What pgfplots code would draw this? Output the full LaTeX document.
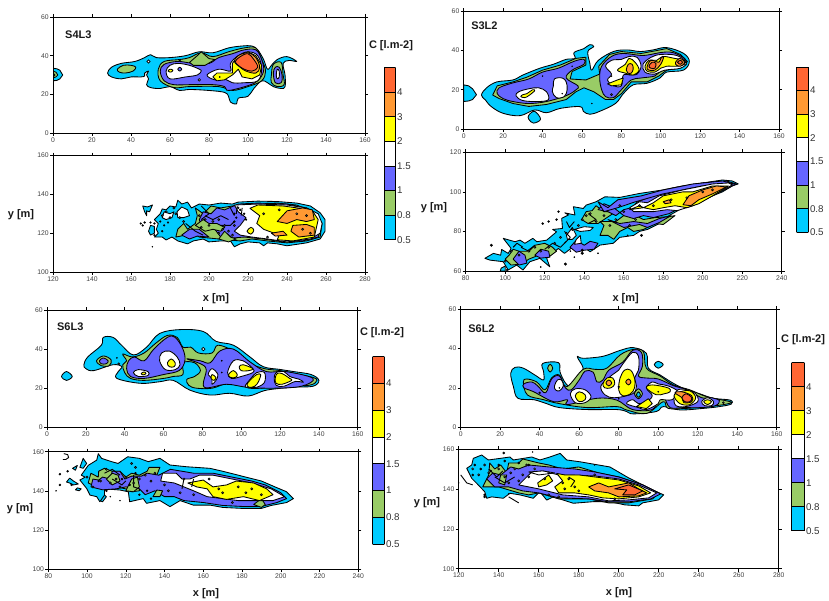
\documentclass[border=0pt]{standalone}
\usepackage{fontspec}
\setmainfont{Liberation Sans}
\usepackage{pgfplots}
\pgfplotsset{compat=1.18}
\definecolor{C0}{HTML}{00CCFF}
\definecolor{C1}{HTML}{99CC66}
\definecolor{C2}{HTML}{6666FF}
\definecolor{C3}{HTML}{FFFFFF}
\definecolor{C4}{HTML}{FFFF00}
\definecolor{C5}{HTML}{FF9933}
\definecolor{C6}{HTML}{FF6633}
\tikzset{ct/.style={draw=black,line width=0.85pt,line join=round},
 s/.style={/tikz/smooth cycle,/tikz/tension=0.6}}
\newcommand\ply[3]{\addplot[fill=C#2,ct,#1] coordinates {#3} --cycle;}
\newcommand\hol[2][1pt]{\addplot[only marks,mark=*,mark size=#1,mark options={fill=white,draw=black,line width=0.7pt}] coordinates {#2};}
\newcommand\blk[2][0.9pt]{\addplot[only marks,mark=*,mark size=#1,mark options={fill=black,draw=black}] coordinates {#2};}
\newcommand\sq[1]{\addplot[black,line width=0.9pt,line join=round] coordinates {#1};}
\pgfplotsset{pan/.style={scale only axis,axis on top,
  axis line style={black,line width=0.7pt},
  tick align=outside,major tick length=3pt,tick style={black,line width=0.6pt},
  xtick distance=20,ytick distance=20,
  /pgf/number format/assume math mode=true,
  tick label style={font=\fontsize{6.8}{8}\selectfont,text=black!75,inner sep=1.2pt},
  }}
\newcommand\cbar[4]{%
\begin{axis}[scale only axis,at={(#1pt,#2pt)},width=#3pt,height=#4pt,xmin=0,xmax=1,ymin=0,ymax=7,
  axis on top,axis line style={black,line width=0.7pt},hide x axis,
  ytick={0,1,2,3,4,5,6},yticklabels={0.5,0.8,1,1.5,2,3,4},yticklabel pos=right,
  major tick length=0pt,tick label style={font=\fontsize{9.8}{11}\selectfont,text=black!80,inner sep=1.5pt}]
\addplot[fill=C0,draw=black,line width=.7pt] coordinates {(0,0) (1,0) (1,1) (0,1)} --cycle;
\addplot[fill=C1,draw=black,line width=.7pt] coordinates {(0,1) (1,1) (1,2) (0,2)} --cycle;
\addplot[fill=C2,draw=black,line width=.7pt] coordinates {(0,2) (1,2) (1,3) (0,3)} --cycle;
\addplot[fill=C3,draw=black,line width=.7pt] coordinates {(0,3) (1,3) (1,4) (0,4)} --cycle;
\addplot[fill=C4,draw=black,line width=.7pt] coordinates {(0,4) (1,4) (1,5) (0,5)} --cycle;
\addplot[fill=C5,draw=black,line width=.7pt] coordinates {(0,5) (1,5) (1,6) (0,6)} --cycle;
\addplot[fill=C6,draw=black,line width=.7pt] coordinates {(0,6) (1,6) (1,7) (0,7)} --cycle;
\end{axis}}
\newcommand\lab[3]{\node[font=\fontsize{11}{12}\bfseries\selectfont,text=black!90,inner sep=0pt] at (#1pt,#2pt) {#3};}
\begin{document}
\begin{tikzpicture}[x=1pt,y=1pt]
\path[use as bounding box] (0,0) rectangle (829,600);

%% ===== S4L3 top
\begin{axis}[pan,at={(53pt,467pt)},width=312pt,height=116pt,xmin=0,xmax=160,ymin=0,ymax=60]
\ply{}{0}{(0,33.5) (2,33.2) (3.5,32.5) (5,30) (3.5,28) (2,27.2) (0,27)}
\ply{}{1}{(0,32) (1.5,31.5) (2.5,30) (1.5,29) (0,28.5)}
\ply{}{2}{(0,31) (1,30) (0,29)}
\ply{s}{0}{(28,31) (30,34) (35,36) (42,37) (47,39) (50,40.5) (53,39) (60,39) (68,40) (75,42) (82,41.5) (90,44) (97,45) (102,45) (105,43) (108,38) (110,33) (112,35) (115,38) (120,39.5) (125,37) (121,37.5) (118,36) (119,30) (119,24) (117,23) (113,24) (110,26) (107,27) (103,23) (100,19) (95,18) (94,15) (91,16) (90,19) (88,21) (80,22) (70,22.5) (65,22) (60,24) (55,23) (50,23.5) (48,25) (49,28) (48,30) (49,32) (47,31) (47,29.5) (45,29) (40,29) (35,28) (30,29)}
\ply{s}{1}{(33,33) (36,35) (40,35) (42.5,34) (41,32) (37,31) (34,31.5)}
\ply{s}{1}{(54,33) (57,37) (65,38) (70,39) (76,41.5) (82,39.5) (90,42) (98,44) (104,44) (107,38) (109,32) (107,27) (100,24) (92,22) (85,24) (70,24) (62,23.5) (55,27)}
\ply{s}{2}{(55,32) (57,35.5) (64,37) (72,36) (80,36) (85,39) (92,41) (98,43) (104,43) (107,38) (108,32) (105,27) (100,24.5) (90,22) (88,24) (82,25) (70,25) (62,25) (57,27)}
\ply{}{1}{(70,36.5) (74,40) (76,42) (80,38.5) (83,38) (78,35) (72,35)}
\ply{s}{3}{(60,28) (58,32) (60,35) (64,36) (70,35) (75,33) (76,32) (74,30) (68,29)}
\ply{s}{4}{(59,32) (60,33) (61.5,32.5) (60.5,31.5)}
\ply{s}{2}{(64,33) (65,34) (66,33) (65,32)}
\ply{s}{3}{(79,30) (85,33) (91,32) (91,36) (95,40) (100,42) (105,40) (107,33) (105,27) (98,26) (92,26) (88,28) (83,27.5)}
\ply{}{4}{(82,29) (84,31) (88,31) (92,31) (92,36) (95,40) (100,42) (104,40) (107,35) (106,30) (102,28) (97,29) (95,33) (92,30) (88,27.5) (84,27)}
\ply{s}{5}{(93,37) (95,40) (100,41.5) (104,39) (106,34) (104,31) (99,32) (96,34)}
\ply{s}{6}{(93.5,37) (96,39.5) (100,41) (103,38) (105,34) (102,32) (98,33) (95,35)}
\ply{s}{1}{(112,30) (113,35.5) (117,36.5) (118,30) (118.5,25) (115,24) (112,26)}
\ply{s}{2}{(113,31) (114,34) (116,34) (117.5,30) (117,26) (114,26)}
\ply{s}{3}{(114.5,30) (115,33) (116,32) (116,29) (115,28)}
\hol[1.6pt]{(49,37)}
\hol[1.2pt]{(75,27.5)}
\hol[0.7pt]{(65,37.5)}
\blk[0.6pt]{(85.5,29)}
\node[font=\fontsize{11}{12}\bfseries\selectfont,text=black!90] at (axis cs:13,50.8) {S4L3};
\end{axis}

%% ===== S4L3 bottom
\begin{axis}[pan,at={(53pt,328pt)},width=312pt,height=116.5pt,xmin=120,xmax=280,ymin=100,ymax=160]
\ply{}{0}{(166,134) (168.5,133.5) (171,134.5) (169.5,131) (168,131.5) (168,129) (167,131)}
\ply{}{0}{(169,121) (170,124) (172,123.5) (172,120) (170,119)}
\ply{}{0}{(173,122) (174,125) (172,127) (175,130) (176,132.5) (178,132) (180,134) (183,133.5) (184,137) (186,135) (189,136) (191,133) (195,135) (200,134.5) (206,135.5) (212,135) (215,136) (225,136.5) (235,136.3) (245,135.5) (252,134) (257,130.5) (259.5,127) (259.5,121) (257,117) (250,115) (240,113.5) (235,114.5) (230,115) (228,113.5) (226,115) (220,115.5) (216,114.5) (213,113) (211,116) (206,116) (200,115.5) (197,117) (192,116) (189,114.5) (184,116) (181,118) (178,116.5) (176,118) (172,118) (174,120)}
\ply{}{1}{(183,118) (184,122) (187,125) (189,122) (193,125) (194,129) (193,133) (197,130) (201,134) (206,133) (212,134) (220,135) (235,135.5) (245,134.5) (255,130) (258,125) (257,118) (250,116) (240,115) (230,116) (222,117) (216,116) (205,117) (195,118) (192,120) (188,119)}
\ply{}{2}{(195,127) (197,131) (201,130) (204,133) (208,132) (215,135) (225,135.5) (240,135) (250,133) (256,129) (257.5,123) (256,118) (248,116) (238,115.5) (228,117) (218,118) (212,117.5) (209,120) (206,118) (203,122) (198,122) (196,124)}
\ply{}{2}{(186,119) (190,122) (195,122) (200,118) (194,118.5) (190,117)}
\ply{}{1}{(193,124) (197,127) (200,125) (204,125) (208,123) (206,121) (202,122) (198,121)}
\ply{}{1}{(205,117) (208,121) (211,118) (214,117) (210,115.5)}
\ply{}{3}{(213,134.5) (215,131) (219,128) (216,124) (213,121) (216,119) (222,118) (230,117) (240,115.5) (252,117) (257,120) (258,125) (256,130) (250,133) (240,134.5) (225,135)}
\ply{}{4}{(221,132.8) (225,134.5) (238,134) (252.7,132) (256,127) (254,118) (243,116) (235,116.6) (236,119) (228,122) (224.5,125) (226,129)}
\ply{s}{4}{(219.5,121) (221.5,123) (223,121.5) (221.5,119.5)}
\ply{}{5}{(235,126) (240,131.5) (248,133) (253,132) (254,127) (250,126) (245,127) (240,125)}
\ply{}{5}{(243,124) (250,124.5) (254,123) (254,119) (246,118) (242,121)}
\ply{}{5}{(232,120) (238,121) (240,119) (234,118.5)}
\ply{}{3}{(183.6,131) (186,133.5) (189,132) (190,129) (187,128) (184,128)}
\ply{}{3}{(176,128) (177,131) (180,130) (182,131) (181,128) (178,127)}
\blk{(165,125) (167,125.5) (170,125.5) (172,125) (166,124) (176,121) (172,119) (213,130) (214,128) (216,132) (218,130) (219,127) (213,126) (215,133) (175,126) (177,124) (179,125.5)}
\blk[0.5pt]{(171,113)}
\sq{(211,133) (213,129)}
\sq{(214.5,134) (214,130)}
\sq{(217,133) (216.5,129)}
\sq{(198,129) (202,127) (206,129) (210,127)}
\sq{(188,125) (193,121) (197,119)}
\sq{(196,134) (200,130) (196,127)}
\sq{(206,124) (211,124) (213,126)}
\hol{(176,129) (178,131) (180,128) (183,130) (185,128) (187,126) (182,133) (195,129) (198,127) (202,126) (205,127) (208,124) (210,121) (207,122) (200,124) (196,123) (212,119) (205,120) (228,130) (236,132) (245,130) (250,129) (248,122) (252,120) (230,118) (213,124)}
\end{axis}

%% ===== S3L2 top
\begin{axis}[pan,at={(463.7pt,471pt)},width=315.3pt,height=117.7pt,xmin=0,xmax=160,ymin=0,ymax=60]
\ply{}{0}{(0,22.5) (2.5,22) (4.5,20.5) (6.5,17.5) (4.5,15) (2.5,14.3) (0,14)}
\ply{s}{0}{(35.4,3) (33,5) (33,7) (36,9) (39,5)}
\ply{s}{0}{(9,17.3) (11.6,21) (16.8,24) (25,25) (30,27.5) (38.7,31) (45.5,33) (52,35.5) (56.5,36) (56,39) (61,41) (64,43) (66,42) (63,39.5) (64,33.5) (65,30) (68.3,35) (76,39.5) (83,40.3) (89.5,39.5) (96,40.3) (103,41.5) (111.5,38.6) (114.5,34.4) (111.5,30) (103,29) (99.6,26) (93,23.3) (86,22.5) (81,18) (77,13) (69,9) (64,7.5) (60.7,9) (59,11.4) (49,10.5) (42,8.3) (36,9.7) (28.6,6.8) (20,8) (14,11.4) (11,14.8)}
\ply{}{1}{(14.7,17.3) (17,22) (25,24) (32,26.4) (40,30) (49,32.6) (57,36) (62,36.6) (62,32.6) (55,29.3) (54,25.5) (62,25) (69,28) (68.5,32) (74,38) (80,39.5) (90,38.5) (97,39.8) (103,41) (110,38) (113.5,34.4) (110,31) (103,30) (99,27) (93,24) (85,24) (80,18) (76,15) (72,15) (66,19) (61,21) (57,19) (52,15) (42,12.5) (33,11.5) (25,13) (18,15.5)}
\ply{s}{2}{(17,18) (18,21) (25,23.5) (33,25.5) (40,29) (48,31) (56,34.5) (61,35.5) (61,33) (55,30) (52,26) (58,22) (57,20) (52,17) (42,14) (33,13) (25,14) (20,15.5)}
\ply{s}{2}{(69,26) (70,32) (75,37) (81,38.5) (90,37.5) (95,38) (100,39) (106,39) (112,36) (113,33) (108,31) (100,29.5) (97,27) (90,26) (85,25) (80,20) (76,16) (72,16.5) (70,20)}
\ply{s}{3}{(26.5,17) (28,19) (33,20.5) (38,21) (42,19) (43,15) (38,14) (30,14.5)}
\ply{s}{3}{(45.5,22) (46,25.5) (50,26) (52,24) (52.5,20) (51,16.5) (47,16) (45,19)}
\ply{s}{3}{(72,32) (75,35) (80,35.5) (84,37) (88,36.5) (90,32) (88,28) (85,27.5) (81,27.5) (80,22) (76,22) (73,25) (75,28)}
\ply{s}{3}{(91,33) (95,36.5) (100,38) (108,37.5) (113,34) (110,31) (102,30) (97,28) (92,29)}
\ply{s}{4}{(78,30) (82,33) (84,36) (87,34) (89,30) (86,27.5) (82,28.5)}
\ply{}{4}{(73,23) (78,25) (81,26) (80,22.5) (75,22)}
\ply{s}{4}{(29,16.5) (30,17.5) (32,18) (35,20) (36,19.5) (33,17) (31,16)}
\ply{s}{4}{(92,32) (94,35) (98,35) (101,37) (107,36) (112,35) (112,33) (108,32) (103,32) (100,31) (97,29) (93,29.5)}
\ply{s}{5}{(82.5,30) (83.5,33) (85.5,33) (86,30.5) (85,28.5) (83.3,28.5)}
\ply{s}{5}{(93,31.5) (95,35) (99,34) (100,36) (101.5,37) (100,33) (97,30) (94,30)}
\ply{s}{6}{(94,32) (95.5,34) (97.5,33.5) (97,31) (95,31)}
\ply{s}{5}{(107.5,34) (109.5,36) (111.5,35) (112,33.5) (110,32) (108,32.5)}
\ply{s}{6}{(108.5,34) (110,35) (111,34) (110,33)}
\blk[0.5pt]{(40,27) (55,32) (50,18) (65,13) (75,27)}
\hol[1pt]{(75,17.5)}
\node[font=\fontsize{11}{12}\bfseries\selectfont,text=black!90] at (axis cs:10.5,52.7) {S3L2};
\end{axis}

%% ===== S3L2 bottom
\begin{axis}[pan,at={(465.7pt,329pt)},width=316pt,height=118.7pt,xmin=80,xmax=240,ymin=60,ymax=120]
\ply{}{0}{(89.7,66.4) (94,68.9) (97.7,68) (98.2,70.9) (101.5,68.9) (103,71.4) (99,76.5) (105,74.8) (107.5,75.6) (110,74) (114,76.5) (116,74.8) (121,75.6) (126,79.8) (124,81) (129,81.5) (128.6,86.6) (132,88.3) (130.2,89.4) (135.3,88.3) (134.5,92.5) (139.5,91.6) (141,93.3) (146,95) (150.5,97.5) (158,97.2) (168,99.2) (180,101) (190,103) (200,104.5) (210,106) (215,105.5) (218,104) (215,103) (210,100) (200,96) (190,92) (183,88) (178,84) (172,81) (168,80) (165,78) (158,77) (154.7,74) (148,73.1) (143,69.7) (140,72) (134.5,72.3) (130,68.9) (126.9,71.4) (121,66.4) (122.6,62.1) (117.6,66.4) (112.5,64.7) (109,60.5) (105.8,63) (101.5,60.5) (99,64.7) (92.3,65.5)}
\ply{}{0}{(100,60) (100,62.5) (98,61.5) (97.5,60)}
\ply{}{1}{(100,66) (102,68) (104,71) (107,70) (111,70) (115,73) (120,74) (124,72) (126,70) (122,67) (117,68) (112,66) (108,63.5) (103,63)}
\ply{}{1}{(138.7,86) (141,90) (144,90.5) (146,93) (150,90) (156,90) (150,86) (147,84) (142,84)}
\ply{}{1}{(148,78) (150,83) (148,85) (152,85) (156,85) (160,88) (166,88) (170,86) (176,87) (183,87.5) (186,88) (180,83.5) (176,84) (170,81) (165,80) (162,82) (158,80) (155,76) (152,78)}
\ply{}{2}{(147,91) (152,90) (156,88) (160,91) (164,92) (167,95) (175,98) (185,102) (200,104.5) (212,105.5) (217,104) (210,100.5) (200,97) (190,92.5) (183,89) (175,87) (170,88) (165,86.5) (160,88) (155,92) (150,94)}
\ply{}{2}{(147,95) (152,92) (157,96) (163,97) (169,98) (180,101) (195,104) (210,105.5) (216,104) (200,103) (180,99) (166,95) (157,92) (150,90)}
\ply{}{2}{(152,86) (158,84) (165,85) (172,84) (178,86.5) (184,88) (178,84.5) (172,82) (168,83.5) (160,82)}
\ply{}{2}{(132.8,72) (136,75.6) (140,73) (143,75) (147,74) (145,71) (140,70.5) (136,69.5)}
\ply{}{2}{(104,66) (107,70) (110,68) (111,64) (107,63)}
\ply{}{2}{(115,68) (118,71) (122,70) (122.6,67) (118,66.5)}
\ply{}{3}{(163,92) (168,95) (172,94.5) (178,98) (190,101) (205,104) (213,104.5) (215,103.5) (205,98) (195,93) (187,90.5) (182,91) (175,90) (165,90)}
\ply{}{3}{(135,81) (140,82.4) (144.6,82) (143,80.5) (138,80)}
\ply{}{3}{(131,78) (134,82) (136,78) (134,76) (131.5,76)}
\ply{}{3}{(135,73.5) (136,76) (138,78) (138.5,74)}
\ply{}{4}{(163,91) (168,93) (170,92) (175,94.5) (180,98) (190,100) (195,100) (205,103) (213,103) (205,98) (198,94) (192,92) (186,93) (180,92) (175,91) (170,92)}
\ply{}{5}{(190,93.5) (193,98) (200,101) (207,103) (212,102.5) (205,99) (198,96) (194,93)}
\ply{}{5}{(180,95) (183,96) (184,94.5) (181,94)}
\blk[1.3pt]{(93,73) (130.5,63.5) (169,78) (139,69) (139,70.5)}
\blk[1pt]{(101,60.5) (126,86) (127,90) (122,85) (119,84)}
\blk[0.6pt]{(147,69) (162,78) (135,67) (118,62) (133,70)}
\sq{(131,85) (132.5,82) (135,85)}
\sq{(120,71) (124,74) (128,72) (131,75)}
\sq{(108,72) (112,70) (115,73)}
\sq{(130,74) (133,77) (130,80)}
\sq{(142,84) (146,86) (142,89)}
\sq{(104,72) (106,74) (109,72)}
\hol{(100,65) (103,70) (107,68) (112,70) (115,72) (118,70) (122,72) (125,74) (128,77) (131,79) (134,81) (137,83) (139,86) (141,88) (143,89) (146,85) (150,88) (153,83) (156,86) (160,90) (163,83) (166,86) (158,93) (168,93) (175,93) (184,96) (192,97) (200,100) (205,101)}
\end{axis}

%% ===== S6L3 top
\begin{axis}[pan,at={(47pt,172.7pt)},width=310.7pt,height=117.3pt,xmin=0,xmax=160,ymin=0,ymax=60]
\ply{s}{0}{(7.5,26) (10,28.5) (13,26) (10,24)}
\ply{s}{0}{(19,32) (21,36) (28,42) (29,46) (34,46) (38.4,42) (44.5,37) (51.3,41) (58,48) (69,50) (80.5,49) (87,44) (96,42) (104.5,36) (111.4,31) (120,29.6) (127,28.5) (136,27) (140,24) (137,21) (127,20.5) (113,19) (103.7,16) (94,17.4) (84,16.5) (73.6,19) (65,24) (58,23.3) (48,22.5) (36,25) (36.7,28.5) (38.5,31) (34,32) (24,29) (20,30)}
\ply{s}{1}{(25.5,34) (29,36.5) (33,34.5) (32,31.5) (28,31.5)}
\ply{s}{2}{(27,34) (29,35.5) (31.5,34) (30.5,32.5) (28,32.5)}
\ply{s}{1}{(39,37.5) (44,36) (50,38) (56,43) (62,47) (67,46) (70,41) (74,41) (78,38) (85,38) (88,42) (96,39) (104,33) (112,30) (120,29) (130,27) (137,25.5) (139,24) (135,21.5) (120,21) (110,20) (104,20) (100,21.5) (93,22.5) (85,20) (77,20) (73,21.5) (72,24.5) (76,26) (79,29) (76,33) (70,33) (70,27) (65,26) (60,25) (50,24) (43,25) (40,28) (39,32) (41,34)}
\ply{s}{2}{(42,34) (45,36) (50,34) (55,40) (62,46) (66,46) (70,40) (71,34) (68,29) (60,27) (50,25) (43,26) (41,30)}
\ply{s}{2}{(72,35) (79,34) (84,33) (89,39) (96,40) (104.5,33.5) (113,28.5) (123,28.5) (137,25) (131,21) (116.5,20) (103,20.5) (92.5,22) (81,20.5) (82,29.5) (79,32.5)}
\ply{s}{3}{(58,34) (59,38) (63,39) (67,36) (68.5,32) (66,29.5) (61,29.5)}
\ply{s}{4}{(62,33) (64,35) (66,33) (65.5,31) (63,31)}
\ply{s}{3}{(44.5,28) (47,29.5) (52,28.5) (52,26.5) (47,26)}
\ply{s}{4}{(48.5,27.5) (50,28.3) (51,27.5) (49.5,26.8)}
\ply{s}{3}{(93,28) (96,34) (101,34) (106,30) (106,28) (100,26) (95,25)}
\ply{s}{4}{(93.5,27) (96,29) (98,27) (97,25.5) (94.5,25.5)}
\ply{s}{4}{(99,31) (101,32) (106,30) (104,29) (100,29)}
\ply{s}{3}{(102,21) (105,25) (108,28) (112,28) (112,23) (108,20.5) (104,20.5)}
\ply{s}{4}{(103,22) (105,24.5) (108,27) (110,27) (109,23.5) (107,21) (104,20.5)}
\ply{s}{3}{(85,25) (83,27) (85,30) (88,27) (87,24) (85,22)}
\ply{s}{4}{(84.5,25) (85,27) (87,25.5) (86,24)}
\ply{s}{3}{(117,25) (118,28) (122,28.5) (125,26) (130,24.5) (132,23) (128,23.5) (122,21) (118,21.5)}
\ply{s}{4}{(117.5,25) (118.5,27.5) (121,27.5) (125,25) (126,24) (121,22) (118,22.5)}
\hol[1.7pt]{(80.5,40)}
\hol[0.9pt]{(37,32.5)}
\blk[0.6pt]{(90,34) (90,28) (36,35.5)}
\node[font=\fontsize{11}{12}\bfseries\selectfont,text=black!90] at (axis cs:12,51.5) {S6L3};
\end{axis}

%% ===== S6L3 bottom
\begin{axis}[pan,at={(48.3pt,31pt)},width=310pt,height=117.3pt,xmin=80,xmax=240,ymin=100,ymax=160]
\ply{}{0}{(96.3,152) (98,156.6) (99.8,154) (98,151.5)}
\ply{}{0}{(92.5,151.5) (95,153) (94,150.5)}
\ply{}{0}{(89.4,144.5) (91,146.5) (93,145) (95.5,143.5) (93,143) (91,144)}
\ply{}{0}{(106.6,135) (108,138.6) (110,137) (108,134.4)}
\ply{}{0}{(94,140.5) (95,141.5) (97,141) (96,140)}
\ply{}{0}{(97,148) (100.6,153) (105,155.7) (105.8,159) (107.5,156.6) (112.7,154.9) (116,154) (121,157.4) (127,156.6) (131.6,154.9) (137.6,156.6) (142.8,153.2) (151.4,152.3) (163.4,151.5) (170,150) (180,147.5) (190,145) (197,142) (203,139.5) (206.5,136) (203,134) (195,132.5) (190,131) (180,131) (170,131.5) (163.4,132.7) (154.8,132.7) (148,135) (142.8,131.9) (137.6,135) (130.7,133.6) (129,136) (122,134.4) (121.3,139.5) (117,140.4) (109,141) (109,137.8) (106.6,134.4) (105,137) (101.5,137.8) (99.8,141.2) (96.3,145.5) (99,147)}
\ply{}{1}{(100.6,144) (102,149) (105.8,147) (106,150) (109,151.5) (113,150) (117,150) (120,147) (123,149) (127,148) (131,150) (132,152) (137.6,152) (136,148) (128,145) (127,140) (123,139.5) (120,141) (115,142) (110,142) (105,142)}
\ply{}{2}{(102,142) (103,146) (106,145.5) (108,147) (112,146) (113,150) (117,150) (119.5,146) (123,147.5) (128,147.5) (131,149) (137,148) (143,151) (155,149) (165,149) (175,147) (185,145) (192,143) (200,139) (203,136) (198,134) (190,132) (180,132) (170,132.5) (160,134) (150,135) (145,137) (140,137) (135,140) (130,138) (127,141) (120,142) (115,141) (108,140.5)}
\ply{}{1}{(134,137) (136,140.4) (139,140) (137.6,137)}
\ply{}{1}{(186,133) (190,136) (192,133) (190,131.5)}
\ply{}{1}{(120,140) (123,146) (126,147) (127,142) (124,139.5)}
\ply{}{1}{(110,146) (113,149) (116,148) (117,145) (113,143)}
\ply{}{3}{(138,145) (139,149) (146,149) (149,146) (153,146) (158,148) (165,148) (175,146) (185,144) (195,141) (202,137) (196,135) (188,135) (178,135) (170,136) (162,137) (155,140) (150,142) (145,144)}
\ply{}{4}{(152,144) (160,145.5) (165,142) (172,143) (177,145) (186,144) (192.7,141) (196,138) (189,135) (180.7,137) (172,135.6) (165,137) (162,141) (156.6,142)}
\blk[1pt]{(86,148.5) (86,143) (90,150) (92,143) (133,136) (127,138) (131,140) (106,145) (110,140) (118,146) (122,143) (125,149)}
\blk[0.5pt]{(84,140) (117,135) (112,137)}
\sq{(88,159) (90,158.5) (90.5,157) (89,156) (87.5,156)}
\sq{(109,149) (113,151) (117,148)}
\sq{(113,146) (118,143) (120,145)}
\sq{(124,148) (124,142) (127,141)}
\sq{(150,146) (149,141)}
\sq{(155,146) (154,142)}
\hol{(100,147) (103,142) (107,145) (112,144) (115,146) (117,142) (120,147) (124,144) (127,146) (130,148) (133,145) (125,152) (123,154) (110,151) (135,149) (140,143) (142,140) (148,139) (150,146) (155,138) (168,141) (170,139) (178,142) (182,139) (185,141) (190,138) (175,134) (163,146)}
\end{axis}

%% ===== S6L2 top
\begin{axis}[pan,at={(460.7pt,172.7pt)},width=316pt,height=118.3pt,xmin=0,xmax=160,ymin=0,ymax=60]
\ply{s}{0}{(25.3,27.4) (27.5,30.4) (31.7,30) (37.6,26.5) (41.9,24) (42,28) (41.5,32.4) (49.5,32.8) (50.3,28) (53,22.5) (56,20.6) (60,26) (62,30) (59,35.8) (62,35) (72,36) (80.7,39) (87.4,40.4) (94,37.5) (95,30) (101,26.5) (107.7,22.3) (114.4,19) (121,17) (128,14.7) (136.4,13.8) (137,11.8) (131,10.5) (122.9,9.6) (111,8.8) (102.6,10.5) (99,8) (87.4,6.8) (84,8) (79,9) (64,9) (50,10) (43.5,12) (37,14) (29,14.7) (26.7,20.6)}
\ply{s}{0}{(98,31.8) (100,33.5) (102.5,31.8) (100,30)}
\ply{s}{1}{(44,30) (45.3,32) (46.6,30) (45.3,28)}
\ply{s}{1}{(31.7,23) (33.4,24.5) (38.5,23) (42.7,19) (46,25) (50,26.5) (53.7,20.6) (62,29.4) (68,29.4) (74,30) (80.7,36.7) (87.4,39.5) (92.5,38.4) (94,30) (101,26) (107.7,21.5) (116,19) (124.6,15.5) (136.4,13) (135.5,12) (128,10.8) (114.4,9.6) (105,9.6) (102.6,13) (94,7) (84,8.8) (79,10.5) (64,10) (50,12) (42,14) (33.8,16.4)}
\ply{s}{2}{(32,22) (36,23) (39,21) (43,17.5) (46,24.5) (50,26) (53,20) (56,19) (60,24) (63,28.5) (67,28) (69,23) (72,24) (75,29) (82,33) (87,39) (91.5,38) (92,31) (90,26) (94,25) (100,24.5) (108,21) (115,19) (122,15) (127,15) (131,13.5) (129,11) (122,10) (113,10) (106,10) (103,15) (100,14) (97,9) (87,9) (79,13.8) (69,14.7) (54,11.5) (54,14) (47,13) (37,18) (32,20)}
\ply{s}{3}{(47.5,21) (49,24) (51,24) (52,21) (50,18.5) (48,19)}
\ply{s}{3}{(55.5,17) (58,19.5) (63,19) (66,15.5) (63,12.5) (58,12.5)}
\ply{s}{4}{(58,16) (60,18) (63,16.5) (63,14) (60,13)}
\ply{s}{3}{(71,21) (76,26) (80,29) (82,32) (87,38) (90,36) (90,29) (88,25) (89,21) (87,17) (78,15) (73,16.5)}
\ply{s}{4}{(80,19) (80.7,25) (83,29) (86,29) (88,25) (88,20) (86,17) (82,16)}
\ply{s}{4}{(72,22) (74,25) (77,25) (78,22) (76,20) (73,20)}
\ply{s}{5}{(73.5,22.5) (75,24) (76.5,22.5) (75,21)}
\ply{s}{5}{(83.5,23) (85,24.5) (86.2,23) (85,21.5)}
\ply{s}{3}{(94,20) (97,23) (100,22) (105,21) (110,18) (107,14) (101,14) (100,12) (94,9) (90,10) (84,12) (87,14) (90,12) (94,13) (97,16)}
\ply{s}{4}{(94,20) (97,21.5) (105,20) (106,18) (103,17) (99,16.5)}
\ply{}{4}{(89,10.5) (95,14.5) (97,12) (94,9.5)}
\ply{s}{1}{(88,17) (90,19.5) (92,17) (90,14.5)}
\ply{s}{0}{(89,16.5) (90,18) (91,16.5) (90,15.2)}
\ply{s}{3}{(108,15) (110,19) (115,19) (119,17) (120,13) (114,10.5) (109,11)}
\ply{s}{4}{(108,16) (111,18) (116,18.5) (119,15) (116,11.5) (111,12)}
\ply{s}{5}{(108.5,17.5) (112,18) (117,16) (117,13) (113,12.5) (112,15)}
\ply{s}{6}{(112,15) (114,17) (117,15) (116,13) (113.5,13)}
\ply{s}{3}{(122,13) (125,15) (128,13) (127,11) (123.5,11)}
\ply{s}{4}{(123,13) (125,14) (127,13) (125,11.5)}
\hol[0.8pt]{(80,20.5) (40,17.5) (133,12.5)}
\blk[0.6pt]{(80,14.5) (50,20) (100,18)}
\node[font=\fontsize{11}{12}\bfseries\selectfont,text=black!90] at (axis cs:10.5,50) {S6L2};
\end{axis}

%% ===== S6L2 bottom
\begin{axis}[pan,at={(458.7pt,31.3pt)},width=320pt,height=119.7pt,xmin=120,xmax=280,ymin=100,ymax=160]
\ply{}{0}{(124,150.3) (126.5,152) (127.3,155.3) (131.5,157) (134.8,154.5) (140.7,155.3) (145.6,156) (147.3,154.5) (152.3,155.3) (156.5,156) (160.6,154.5) (165.6,156) (170.7,157.8) (174,154.5) (180.6,153.6) (195.6,151) (205,145.5) (212,142) (218,139) (222.5,137) (220,134.5) (212,133) (210,131.5) (203,132) (195.6,133.6) (187.3,133.6) (177.3,132.8) (167.3,136) (164,134.4) (160.6,138.6) (157.3,135.3) (150.6,137) (145.6,137.8) (142.3,135.3) (136.5,136) (134,135.3) (133,138.6) (129,142.8) (126.5,145.3)}
\ply{}{1}{(132,141) (135,147) (135.5,153) (138,150) (141,152) (144,148) (145,153) (150,153) (152,155) (160,153) (165,152) (172,150) (180,151) (190,148) (200,146) (212,142) (220,138) (217,135) (205,133) (195,133) (185,135) (170,135) (160,138) (155,137) (150,138) (140,141)}
\ply{}{2}{(134,145) (137,148) (141,147) (146,151) (150,150) (155,152) (165,151) (178,150) (188,148.5) (200,146) (212,142) (221,137.5) (216,135) (205,133.5) (195,133.5) (185,135) (170,135.5) (160,138) (152,139) (145,141) (138,141)}
\ply{}{3}{(150,142) (156,148) (162,149) (170,147) (175,147) (188,146.5) (200,145) (210,142) (219,138) (215,135.5) (205,134.5) (195,134) (185,136) (172,137) (160,140) (155,141)}
\ply{}{4}{(169,147.8) (173,147) (180,147) (188,146) (200,144.5) (210,141.5) (216,138) (210,136) (200,135) (192,135.5) (185,137) (178,138) (170,138) (168,141) (172,144)}
\ply{}{4}{(159.5,143) (163,145.5) (165,147) (167,144) (164,142) (160,141)}
\ply{}{5}{(185,141) (190,143) (195,141) (200,142) (205,143) (210,140) (214,138) (210,136.5) (200,136) (195,138) (188,139)}
\ply{}{6}{(198,140) (205,142) (212,139) (208,137) (202,137) (204,139.5)}
\ply{}{1}{(140,143) (141,147) (144,147) (143,142)}
\ply{}{3}{(155,148.5) (160,147) (168,148) (162,149)}
\blk[1.1pt]{(131,150) (128,152) (127,147) (133,136) (133,137) (142.5,158) (143,154) (140,152) (136,149) (150,153) (155,152)}
\blk[0.5pt]{(120,143) (157,158.5) (188,152) (145,137.5)}
\sq{(121,147) (124,143) (127,142)}
\sq{(145,136) (150,133)}
\sq{(135,150) (139,146) (142,149)}
\sq{(175,146) (178,144) (176,141)}
\sq{(138,146) (143,143) (148,146)}
\hol{(127,150) (130,147) (133,152) (135,148) (140,150) (143,146) (146,148) (145,143) (150,144) (152,147) (148,150) (155,146) (154,152) (158,150) (165,148) (163,145) (172,143) (175,145) (178,141) (173,140) (188,147) (170,136) (165,137) (180,139) (198,135)}
\end{axis}

%% ===== colour bars
\cbar{384}{360.3}{11.5}{172}
\cbar{796.7}{367.7}{11.6}{165.3}
\cbar{372.7}{56}{11.6}{187.3}
\cbar{791.7}{69.3}{12.6}{168}

%% ===== labels
\lab{391}{554}{C [l.m-2]}
\lab{382}{267}{C [l.m-2]}
\lab{803}{260}{C [l.m-2]}
\lab{21}{385}{y [m]}
\lab{434}{392}{y [m]}
\lab{20}{91}{y [m]}
\lab{427}{97}{y [m]}
\lab{216}{301}{x [m]}
\lab{625.7}{301.3}{x [m]}
\lab{206}{6.3}{x [m]}
\lab{619}{7.3}{x [m]}
\end{tikzpicture}
\end{document}
